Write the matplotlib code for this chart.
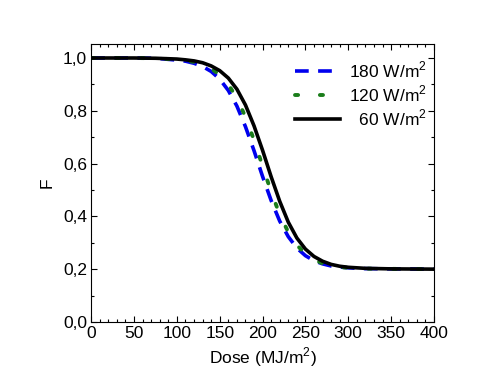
import numpy as np
import matplotlib
matplotlib.use('Agg')
import matplotlib.pyplot as plt
from matplotlib.ticker import MultipleLocator, FuncFormatter

plt.rcParams['font.family'] = ['Liberation Sans', 'DejaVu Sans']
plt.rcParams['mathtext.fontset'] = 'custom'
plt.rcParams['mathtext.rm'] = 'Liberation Sans'

# dose grid (MJ/m2)
dose = [0, 50, 75, 100, 110, 120, 130, 140, 150, 160, 170, 180, 190, 200,
        210, 220, 230, 240, 250, 260, 270, 280, 290, 300, 320, 350, 400]

# F values
f_180 = [1.000, 1.000, 0.999, 0.992, 0.988, 0.980, 0.968, 0.949, 0.920, 0.877,
         0.818, 0.740, 0.649, 0.551, 0.460, 0.382, 0.323, 0.280, 0.251, 0.232,
         0.220, 0.212, 0.208, 0.205, 0.202, 0.201, 0.200]
f_120 = [1.000, 1.000, 0.999, 0.994, 0.991, 0.985, 0.975, 0.960, 0.936, 0.900,
         0.848, 0.777, 0.689, 0.590, 0.493, 0.407, 0.340, 0.291, 0.258, 0.236,
         0.222, 0.214, 0.208, 0.205, 0.202, 0.201, 0.200]
f_60 = [1.000, 1.000, 0.999, 0.996, 0.993, 0.989, 0.982, 0.970, 0.952, 0.924,
        0.882, 0.822, 0.743, 0.650, 0.550, 0.457, 0.378, 0.318, 0.276, 0.248,
        0.230, 0.218, 0.211, 0.207, 0.203, 0.201, 0.200]

labels = ['180 W/m$^2$', '120 W/m$^2$', '  60 W/m$^2$']

fig = plt.figure(figsize=(5.04, 3.86), dpi=100)
ax = fig.add_axes([0.181, 0.166, 0.680, 0.720])

ax.plot(dose, f_180, color='#0000ee', lw=2.6, ls=(0, (3.8, 2.6)), label=labels[0])
ax.plot(dose, f_120, color='#1a7d1a', lw=2.8, ls=(0, (0.8, 5.6)),
        dash_capstyle='round', label=labels[1])
ax.plot(dose, f_60, color='black', lw=2.6, label=labels[2])

ax.set_xlim(0, 400)
ax.set_ylim(0, 1.053)
ax.xaxis.set_major_locator(MultipleLocator(50))
ax.xaxis.set_minor_locator(MultipleLocator(10))
ax.yaxis.set_major_locator(MultipleLocator(0.2))
ax.yaxis.set_minor_locator(MultipleLocator(0.1))
ax.yaxis.set_major_formatter(FuncFormatter(lambda v, p: f'{v:.1f}'.replace('.', ',')))

ax.tick_params(which='both', direction='in', top=True, right=True, labelsize=12.5, width=0.8)
ax.tick_params(which='major', length=4.5, pad=3)
ax.tick_params(which='minor', length=2.5)
for s in ax.spines.values():
    s.set_linewidth(0.8)

ax.set_xlabel('Dose (MJ/m$^2$)', fontsize=12.5, labelpad=3)
ax.set_ylabel('F', fontsize=12.5, labelpad=6)

ax.legend(loc='upper left', bbox_to_anchor=(0.55, 1.0), frameon=False,
          fontsize=12.5, handlelength=2.6, handletextpad=0.5, labelspacing=0.2)

plt.savefig('out.png', dpi=100)
